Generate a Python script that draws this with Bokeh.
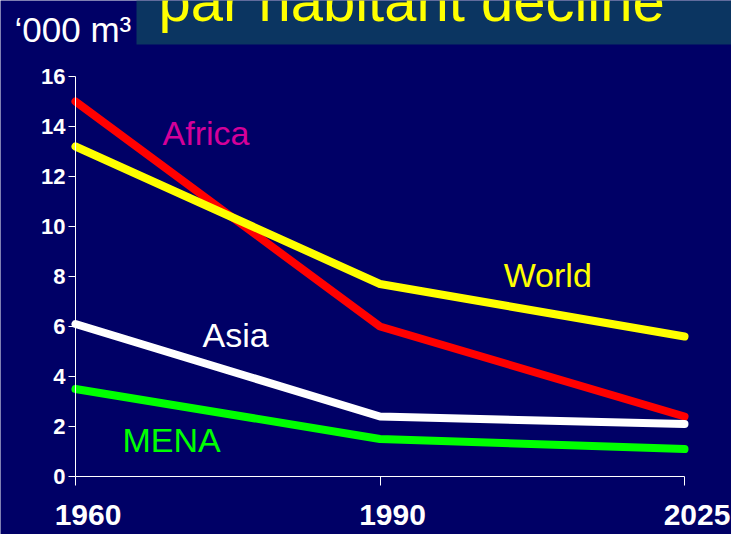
from bokeh.plotting import figure
from bokeh.models import Range1d, Label, FixedTicker, BoxAnnotation, LinearAxis
from bokeh.embed import file_html
from bokeh.resources import INLINE

# ---- data ----
years = ["1960", "1990", "2025"]
x_pos = [0, 1, 2]
series_names = ["Africa", "World", "Asia", "MENA"]
africa = [15.0, 6.0, 2.4]
world = [13.2, 7.7, 5.6]
asia = [6.1, 2.4, 2.1]
mena = [3.5, 1.5, 1.1]
y_ticks = [0, 2, 4, 6, 8, 10, 12, 14, 16]
unit_label = "\u2018000 m\u00b3"
title_text = "par habitant decline"

BG = "#000066"
line_colors = ["#ff0000", "#ffff00", "#ffffff", "#00ff00"]
label_colors = ["#d4009a", "#ffff00", "#ffffff", "#00ff00"]
FONT = "Liberation Sans"

# canvas geometry: x 0..2 spans px 75..684, y 0..16 spans px 476..76
W, H = 731, 534
PX_X = (684 - 75) / 2.0
PX_Y = (476 - 76) / 16.0
x0 = -75 / PX_X
x1 = 2 + (W - 684) / PX_X
y0 = -(H - 476) / PX_Y
y1 = 16 + 76 / PX_Y

p = figure(width=W, height=H, output_backend="svg", toolbar_location=None,
           x_range=Range1d(x0, x1), y_range=Range1d(y0, y1),
           x_axis_location=None, y_axis_location=None, min_border=0,
           background_fill_color=BG, border_fill_color=BG)
p.outline_line_color = None
p.grid.visible = False

# slide title strip (cut off at the top, as on the slide)
p.add_layout(BoxAnnotation(left=(136 - 75) / PX_X, bottom=y1 - 44 / PX_Y,
                           fill_color="#0b3561", fill_alpha=1, line_color=None))
p.add_layout(Label(x=(158 - 75) / PX_X, y=y1 - (22 - 22) / PX_Y, text=title_text,
                   text_color="#ffff00", text_font=FONT, text_font_size="58px",
                   text_baseline="alphabetic"))
p.add_layout(Label(x=(14 - 75) / PX_X, y=y1 - (42 - 13) / PX_Y, text=unit_label,
                   text_color="white", text_font=FONT, text_font_size="35px",
                   text_baseline="alphabetic"))

for vals, col in zip([africa, world, asia, mena], line_colors):
    p.line(x_pos, vals, line_color=col, line_width=8, line_cap="round", line_join="round")

xaxis = LinearAxis(fixed_location=0, bounds=(0, 2), ticker=FixedTicker(ticks=x_pos),
                   major_label_overrides={x: "\u00a0\u00a0\u00a0" + y for x, y in zip(x_pos, years)})
yaxis = LinearAxis(fixed_location=0, bounds=(0, 16), ticker=FixedTicker(ticks=y_ticks))
for ax in (xaxis, yaxis):
    ax.axis_line_color = "white"
    ax.axis_line_width = 1
    ax.major_tick_line_color = "white"
    ax.major_tick_in = 0
    ax.minor_tick_line_color = None
    ax.major_label_text_color = "white"
    ax.major_label_text_font = FONT
    ax.major_label_text_font_style = "bold"
xaxis.major_tick_out = 9
yaxis.major_tick_out = 7
xaxis.major_label_text_font_size = "30px"
yaxis.major_label_text_font_size = "22px"
xaxis.major_label_standoff = 12
yaxis.major_label_standoff = 3
p.add_layout(xaxis, "below")
p.add_layout(yaxis, "left")

label_pos = [(0.286, 13.76), (1.406, 8.08), (0.417, 5.68), (0.154, 1.48)]
for name, col, (lx, ly) in zip(series_names, label_colors, label_pos):
    p.add_layout(Label(x=lx, y=ly, text=name, text_color=col, text_font=FONT,
                       text_font_size="34px", text_baseline="alphabetic"))

open("out.html", "w").write(file_html(p, INLINE))
